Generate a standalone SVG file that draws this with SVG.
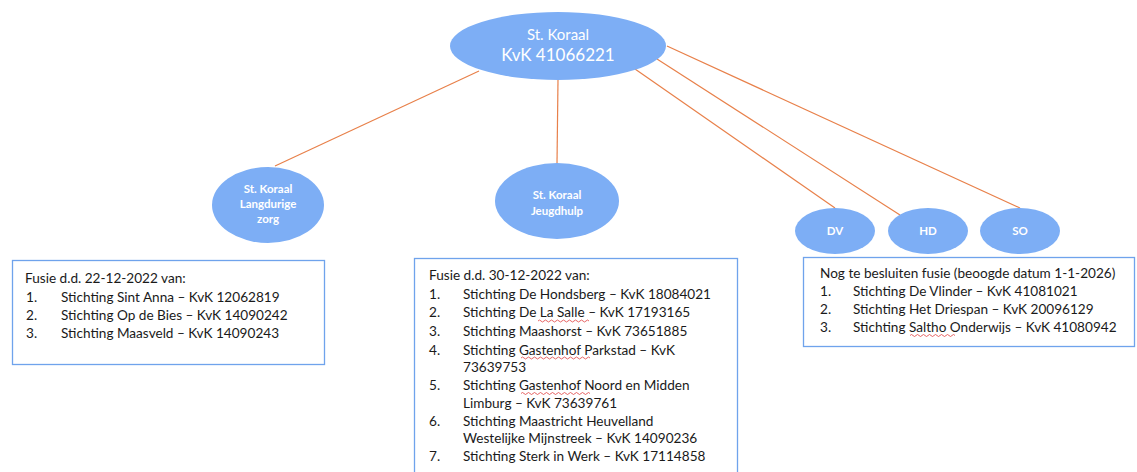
<svg xmlns="http://www.w3.org/2000/svg" width="1137" height="472" viewBox="0 0 1137 472">
<style>
.bg{fill:#ffffff}
.node{fill:#7DAEF5}
.nt{fill:#ffffff;font-family:Lato,"Open Sans",sans-serif;text-anchor:middle}
.big{font-size:15px}
.big2{font-size:17px}
.small{font-size:11.5px;font-weight:bold}
.edge{stroke:#E8804A;stroke-width:1.2;fill:none}
.box{fill:#ffffff;stroke:#6FA3EC;stroke-width:1.3}
.bt{fill:#1a1a1a;font-family:Lato,"Open Sans",sans-serif;font-size:13.6px}
.sq{stroke:#E04040;stroke-width:0.8;fill:none}
</style>
<rect class="bg" x="0" y="0" width="1137" height="472"/>
<g id="connectors">
<line class="edge" x1="479" y1="71" x2="275" y2="166"/>
<line class="edge" x1="558" y1="80" x2="557" y2="163"/>
<line class="edge" x1="635" y1="69" x2="835" y2="208"/>
<line class="edge" x1="657" y1="59" x2="900" y2="215"/>
<line class="edge" x1="667" y1="46" x2="1020" y2="208"/>
</g>
<g id="node-koraal">
<ellipse class="node" cx="558" cy="46" rx="108" ry="34"/>
<text class="nt big" x="558" y="40">St. Koraal</text>
<text class="nt big2" x="558" y="61">KvK 41066221</text>
</g>
<g id="node-langdurig">
<ellipse class="node" cx="268" cy="205" rx="56" ry="38"/>
<text class="nt small" x="268" y="193">St. Koraal</text>
<text class="nt small" x="268" y="208">Langdurige</text>
<text class="nt small" x="268" y="223">zorg</text>
</g>
<g id="node-jeugdhulp">
<ellipse class="node" cx="557" cy="201" rx="62" ry="38"/>
<text class="nt small" x="557" y="199">St. Koraal</text>
<text class="nt small" x="557" y="215">Jeugdhulp</text>
</g>
<g id="node-dv">
<ellipse class="node" cx="835" cy="231" rx="40" ry="23"/>
<text class="nt small" x="835" y="235">DV</text>
</g>
<g id="node-hd">
<ellipse class="node" cx="928" cy="231" rx="40" ry="23"/>
<text class="nt small" x="928" y="235">HD</text>
</g>
<g id="node-so">
<ellipse class="node" cx="1020" cy="231" rx="40" ry="23"/>
<text class="nt small" x="1020" y="235">SO</text>
</g>
<g id="box-langdurig">
<rect class="box" x="12.5" y="260.5" width="312" height="104"/>
<text class="bt" x="25" y="283">Fusie d.d. 22-12-2022 van:</text>
<text class="bt" x="26" y="302">1.</text><text class="bt" x="61" y="302">Stichting Sint Anna – KvK 12062819</text>
<text class="bt" x="26" y="320">2.</text><text class="bt" x="61" y="320">Stichting Op de Bies – KvK 14090242</text>
<text class="bt" x="26" y="338">3.</text><text class="bt" x="61" y="338">Stichting Maasveld – KvK 14090243</text>
</g>
<g id="box-jeugdhulp">
<rect class="box" x="414.5" y="258.5" width="323" height="230"/>
<text class="bt" x="429" y="280">Fusie d.d. 30-12-2022 van:</text>
<text class="bt" x="429" y="298.5">1.</text><text class="bt" x="463" y="298.5">Stichting De Hondsberg – KvK 18084021</text>
<text class="bt" x="429" y="317">2.</text><text class="bt" x="463" y="317">Stichting De La Salle – KvK 17193165</text>
<text class="bt" x="429" y="336">3.</text><text class="bt" x="463" y="336">Stichting Maashorst – KvK 73651885</text>
<text class="bt" x="429" y="354.5">4.</text><text class="bt" x="463" y="354.5">Stichting Gastenhof Parkstad – KvK</text>
<text class="bt" x="463" y="371.5">73639753</text>
<text class="bt" x="429" y="390">5.</text><text class="bt" x="463" y="390">Stichting Gastenhof Noord en Midden</text>
<text class="bt" x="463" y="407.5">Limburg – KvK 73639761</text>
<text class="bt" x="429" y="426">6.</text><text class="bt" x="463" y="426">Stichting Maastricht Heuvelland</text>
<text class="bt" x="463" y="443">Westelijke Mijnstreek – KvK 14090236</text>
<text class="bt" x="429" y="461">7.</text><text class="bt" x="463" y="461">Stichting Sterk in Werk – KvK 17114858</text>
<path class="sq" d="M538 321 q1.5 -2 3 0 t3 0 t3 0 t3 0 t3 0 t3 0 t3 0 t3 0 t3 0 t3 0 t3 0 t3 0 t3 0 t3 0 t3 0 t3 0 t3 0"/>
<path class="sq" d="M521 358 q1.5 -2 3 0 t3 0 t3 0 t3 0 t3 0 t3 0 t3 0 t3 0 t3 0 t3 0 t3 0 t3 0 t3 0 t3 0 t3 0 t3 0 t3 0 t3 0 t3 0 t3 0 t3 0 t3 0 t3 0"/>
<path class="sq" d="M521 393.5 q1.5 -2 3 0 t3 0 t3 0 t3 0 t3 0 t3 0 t3 0 t3 0 t3 0 t3 0 t3 0 t3 0 t3 0 t3 0 t3 0 t3 0 t3 0 t3 0 t3 0 t3 0 t3 0 t3 0 t3 0"/>
</g>
<g id="box-so">
<rect class="box" x="803.5" y="257.5" width="331" height="89"/>
<text class="bt" x="820" y="278">Nog te besluiten fusie (beoogde datum 1-1-2026)</text>
<text class="bt" x="820" y="296">1.</text><text class="bt" x="853" y="296">Stichting De Vlinder – KvK 41081021</text>
<text class="bt" x="820" y="314">2.</text><text class="bt" x="853" y="314">Stichting Het Driespan – KvK 20096129</text>
<text class="bt" x="820" y="332">3.</text><text class="bt" x="853" y="332">Stichting Saltho Onderwijs – KvK 41080942</text>
<path class="sq" d="M910 335.5 q1.5 -2 3 0 t3 0 t3 0 t3 0 t3 0 t3 0 t3 0 t3 0 t3 0 t3 0 t3 0 t3 0 t3 0 t3 0 t3 0"/>
</g>
</svg>
